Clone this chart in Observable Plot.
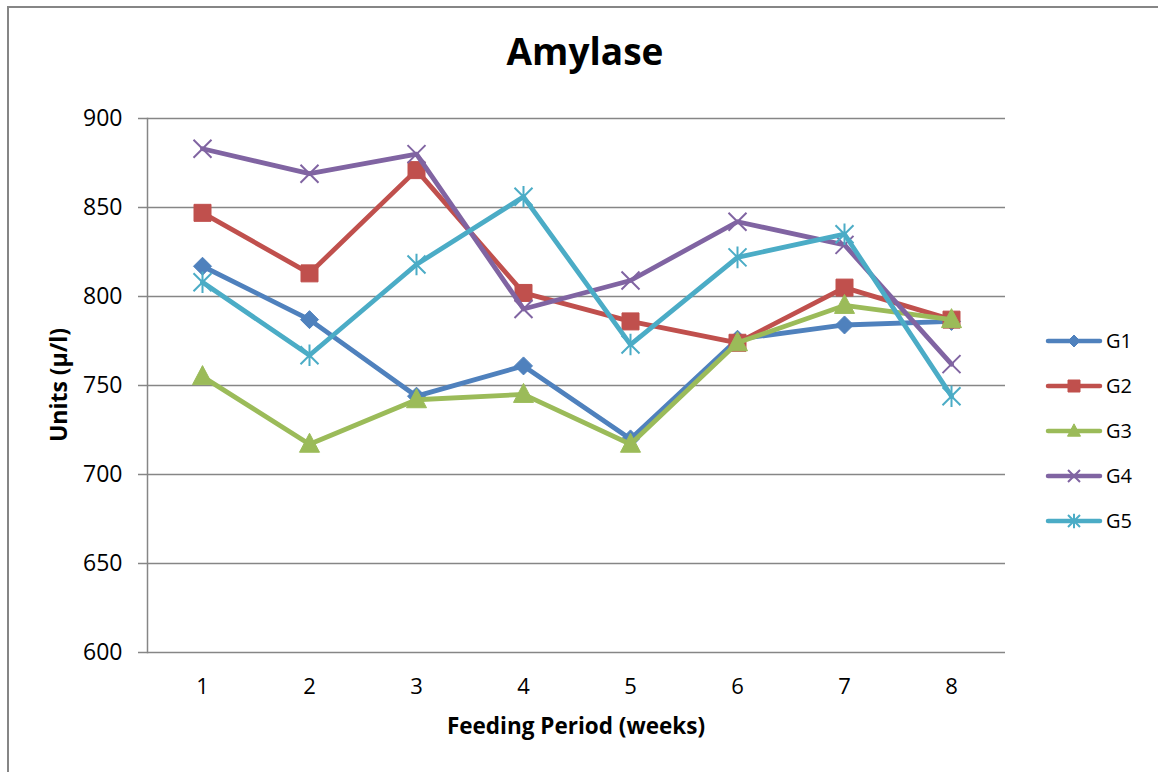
<!DOCTYPE html>
<html><head><meta charset="utf-8">
<script src="https://cdn.jsdelivr.net/npm/d3@7"></script>
<script src="https://cdn.jsdelivr.net/npm/@observablehq/plot@0.6"></script>
<style>
html,body{margin:0;padding:0;background:#fff;overflow:hidden}
#wrap{position:relative;width:1158px;height:772px;font-family:"Open Sans",sans-serif}
#wrap > svg{position:absolute;left:0;top:0}
</style></head><body><div id="wrap"></div>
<script>
const weeks = [1, 2, 3, 4, 5, 6, 7, 8];
const seriesNames = ["G1", "G2", "G3", "G4", "G5"];
const G1 = [817, 787, 744, 761, 720, 776, 784, 786];
const G2 = [847, 813, 871, 802, 786, 774, 805, 787];
const G3 = [755, 717, 742, 745, 717, 774, 795, 787];
const G4 = [883, 869, 880, 793, 809, 842, 829, 762];
const G5 = [808, 767, 818, 856, 773, 822, 835, 744];
const yTicks = [600, 650, 700, 750, 800, 850, 900];
const colors = ["#4F81BD", "#C0504D", "#9BBB59", "#8064A2", "#4BACC6"];
const shapes = ["diamond", "square", "triangle", "x", "asterisk"];
const titleText = "Amylase";
const xLabel = "Feeding Period (weeks)";
const yLabel = "Units (\u00B5/l)";

const values = [G1, G2, G3, G4, G5];
const data = [];
seriesNames.forEach((s, i) => weeks.forEach((w, j) => data.push({series: s, week: w, value: values[i][j]})));

function drawShape(ctx, kind, r) {
  if (kind === "diamond") { ctx.moveTo(0, -r); ctx.lineTo(r, 0); ctx.lineTo(0, r); ctx.lineTo(-r, 0); ctx.closePath(); }
  else if (kind === "square") { ctx.moveTo(-r, -r); ctx.lineTo(r, -r); ctx.lineTo(r, r); ctx.lineTo(-r, r); ctx.closePath(); }
  else if (kind === "triangle") { ctx.moveTo(0, -r * 1.1); ctx.lineTo(r, r * 0.8); ctx.lineTo(-r, r * 0.8); ctx.closePath(); }
  else if (kind === "x") { ctx.moveTo(-r, -r); ctx.lineTo(r, r); ctx.moveTo(r, -r); ctx.lineTo(-r, r); }
  else { ctx.moveTo(-r, -r); ctx.lineTo(r, r); ctx.moveTo(r, -r); ctx.lineTo(-r, r); ctx.moveTo(0, -r * 1.2); ctx.lineTo(0, r * 1.2); }
}
const symbolOf = kind => ({draw(ctx, size) { drawShape(ctx, kind, Math.sqrt(size / Math.PI)); }});
const markerR = {diamond: 9, square: 8.5, triangle: 10, x: 9, asterisk: 9};
const legendR = {diamond: 6, square: 6, triangle: 6.5, x: 6, asterisk: 6};
const isStroke = k => k === "x" || k === "asterisk";

const marks = [
  Plot.gridY(yTicks, {stroke: "#868686", strokeOpacity: 1, strokeWidth: 1.5}),
  Plot.frame({anchor: "left", stroke: "#868686", strokeWidth: 1.5}),
  Plot.axisY({ticks: yTicks, tickSize: 9, tickPadding: 16, fontSize: 23, stroke: "#868686", strokeWidth: 1.5, fill: "#000", label: null}),
  Plot.axisX({tickSize: 0, tickPadding: 26, fontSize: 22, fill: "#000", label: null})
];
seriesNames.forEach((s, i) => {
  const d = data.filter(e => e.series === s);
  const k = shapes[i];
  marks.push(Plot.line(d, {x: "week", y: "value", stroke: colors[i], strokeWidth: 4.8, strokeLinejoin: "round", strokeLinecap: "round"}));
  marks.push(Plot.dot(d, {x: "week", y: "value", r: markerR[k], symbol: symbolOf(k),
    fill: isStroke(k) ? "none" : colors[i], stroke: colors[i], strokeWidth: isStroke(k) ? 2 : 1}));
});

const chart = Plot.plot({
  width: 1158, height: 772,
  marginLeft: 147, marginRight: 153, marginTop: 118, marginBottom: 120,
  style: {fontFamily: "'Open Sans', sans-serif", color: "#000", background: "transparent"},
  x: {type: "point", domain: weeks, padding: 0.5},
  y: {domain: [600, 900]},
  marks
});
const wrap = document.getElementById("wrap");
wrap.appendChild(chart);

// overlay: border, title, axis titles, legend
const ov = d3.select(wrap).append("svg").attr("width", 1158).attr("height", 772)
  .style("font-family", "'Open Sans', sans-serif");
ov.append("path").attr("d", "M8,900V7H1300").attr("fill", "none").attr("stroke", "#868686").attr("stroke-width", 2);
ov.append("text").attr("x", 585).attr("y", 65).attr("text-anchor", "middle").attr("font-weight", "bold").attr("font-size", 37).text(titleText);
ov.append("text").attr("x", 576).attr("y", 734).attr("text-anchor", "middle").attr("font-weight", "bold").attr("font-size", 22.5).text(xLabel);
ov.append("text").attr("transform", "translate(67,385) rotate(-90)").attr("text-anchor", "middle").attr("font-weight", "bold").attr("font-size", 23).text(yLabel);
const legendY = [341, 386, 431, 476, 521];
seriesNames.forEach((s, i) => {
  const k = shapes[i];
  const g = ov.append("g").attr("transform", `translate(0,${legendY[i]})`);
  g.append("line").attr("x1", 1048).attr("x2", 1100).attr("y1", 0).attr("y2", 0)
    .attr("stroke", colors[i]).attr("stroke-width", 4.5).attr("stroke-linecap", "round");
  const p = d3.path(); drawShape(p, k, legendR[k]);
  g.append("path").attr("transform", "translate(1074,0)").attr("d", p.toString())
    .attr("fill", isStroke(k) ? "none" : colors[i]).attr("stroke", colors[i]).attr("stroke-width", isStroke(k) ? 2 : 1);
  g.append("text").attr("x", 1106).attr("y", 0).attr("dy", "0.35em").attr("font-size", 20).text(s);
});
</script></body></html>
